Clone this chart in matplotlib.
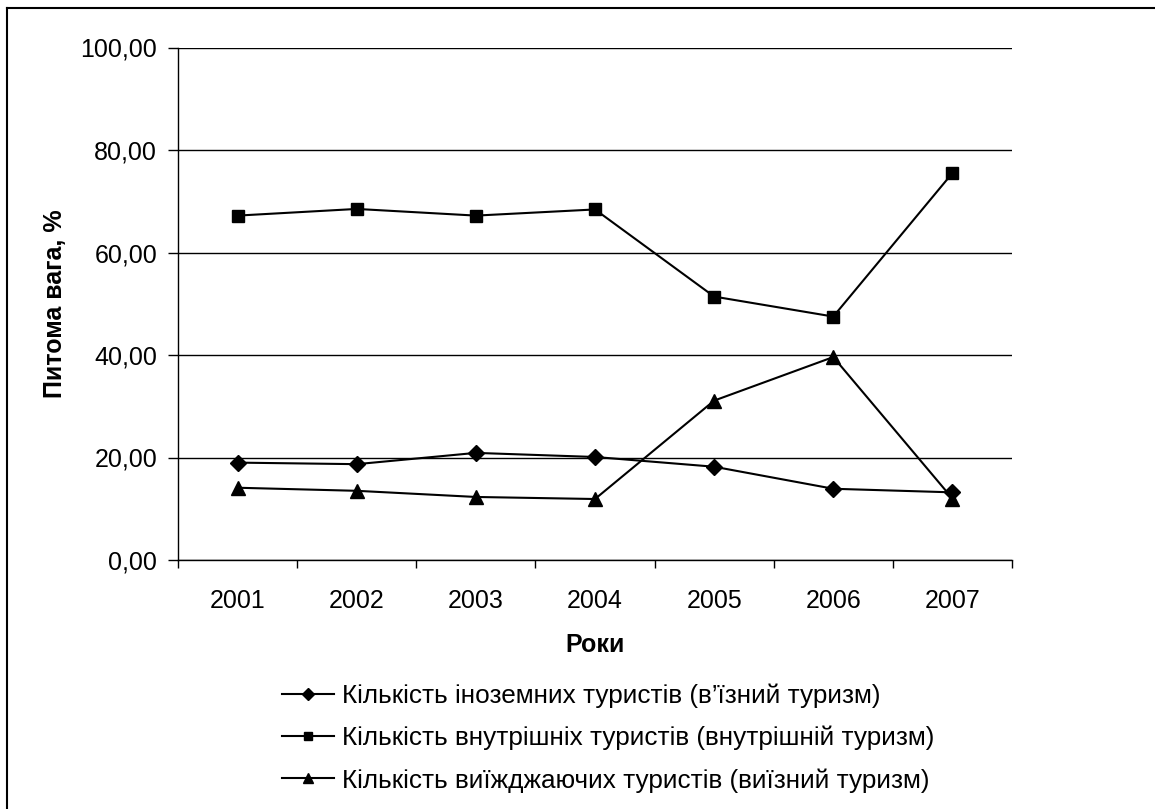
import numpy as np
import matplotlib.pyplot as plt
from matplotlib.lines import Line2D

plt.rcParams['font.family'] = ['Liberation Sans', 'DejaVu Sans']

years = ['2001', '2002', '2003', '2004', '2005', '2006', '2007']
inbound = [19.0, 18.7, 20.9, 20.1, 18.2, 13.9, 13.2]
domestic = [67.2, 68.5, 67.2, 68.4, 51.4, 47.5, 75.5]
outbound = [14.1, 13.5, 12.3, 11.9, 31.1, 39.6, 12.0]

labels = ['Кількість іноземних туристів (в’їзний туризм)',
          'Кількість внутрішніх туристів (внутрішній туризм)',
          'Кількість виїжджаючих туристів (виїзний туризм)']

fs = 18

fig = plt.figure(figsize=(11.55, 8.09), dpi=100)
ax = fig.add_axes([178/1155, 1 - 560/809, (1012-178)/1155, (560-47.5)/809])

x = np.arange(len(years))
ax.plot(x, inbound, color='black', lw=1.5, marker='D', ms=8)
ax.plot(x, domestic, color='black', lw=1.5, marker='s', ms=8.5)
ax.plot(x, outbound, color='black', lw=1.5, marker='^', ms=10)

ax.set_xlim(-0.5, len(years) - 0.5)
ax.set_ylim(0, 100)
ax.set_yticks(np.arange(0, 101, 20))
ax.set_yticklabels(['%d,00' % v for v in range(0, 101, 20)])
ax.set_xticks(x)
ax.set_xticklabels(years)
ax.set_xticks(np.arange(-0.5, len(years)), minor=True)
ax.tick_params(axis='x', which='major', length=0, pad=21, labelsize=fs)
ax.tick_params(axis='x', which='minor', length=6, width=1, direction='out')
ax.tick_params(axis='y', length=7, width=1, direction='out', pad=8, labelsize=fs)

ax.grid(axis='y', color='black', lw=1)
ax.set_axisbelow(True)
for s in ['top', 'right']:
    ax.spines[s].set_visible(False)
for s in ['left', 'bottom']:
    ax.spines[s].set_linewidth(1)

ax.set_xlabel('Роки', fontsize=fs, fontweight='bold', labelpad=14)
ax.set_ylabel('Питома вага, %', fontsize=fs, fontweight='bold', labelpad=10)

handles = [Line2D([], [], color='black', lw=1.5, marker='D', ms=6),
           Line2D([], [], color='black', lw=1.5, marker='s', ms=6),
           Line2D([], [], color='black', lw=1.5, marker='^', ms=7)]
fig.legend(handles, labels, loc='upper left', bbox_to_anchor=(258/1155, 1 - 660/809),
           frameon=False, fontsize=18.8, handlelength=2.0, handletextpad=0.3,
           labelspacing=0.68)

# outer chart border (only top and left visible in the crop)
fig.add_artist(Line2D([7/1155, 7/1155], [0, 1 - 8/809], color='black', lw=1.5,
                      transform=fig.transFigure))
fig.add_artist(Line2D([7/1155, 1], [1 - 8/809, 1 - 8/809], color='black', lw=1.5,
                      transform=fig.transFigure))

fig.savefig('out.png', dpi=100)
